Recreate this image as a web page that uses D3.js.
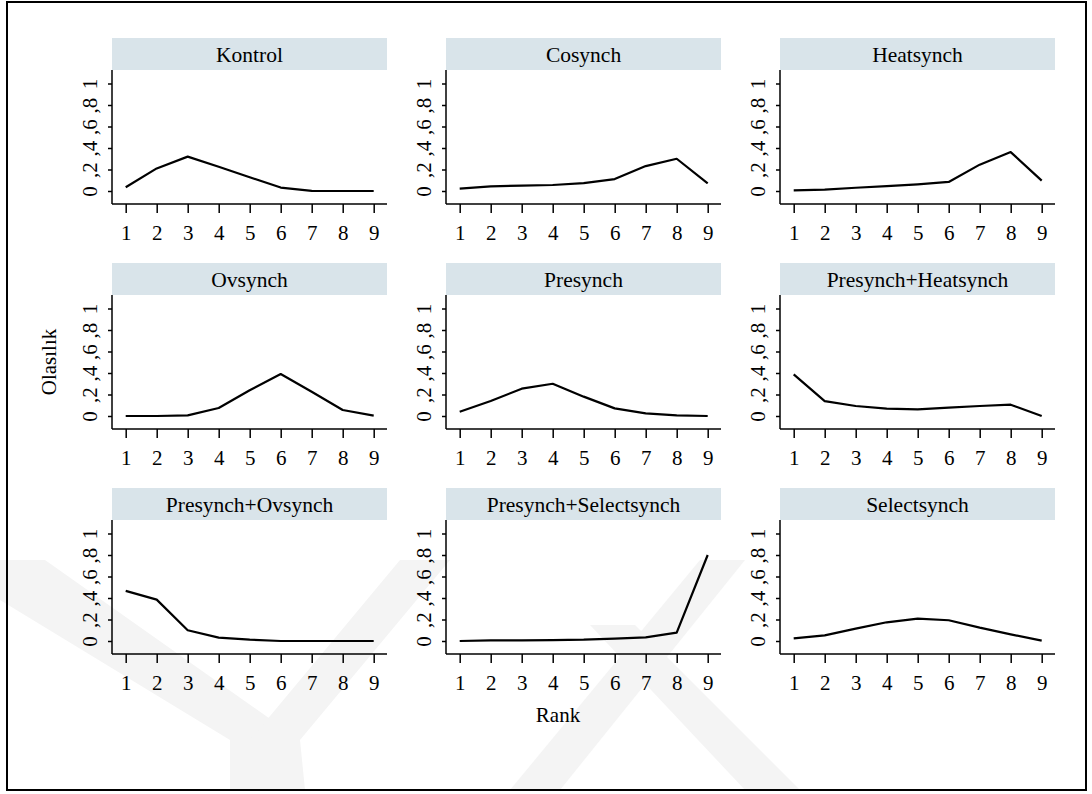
<!DOCTYPE html>
<html>
<head>
<meta charset="utf-8">
<script src="https://cdn.jsdelivr.net/npm/d3@7"></script>
<style>
  body { margin: 0; background: #fff; }
  svg text { font-family: "Liberation Serif", "DejaVu Serif", serif; fill: #000; }
</style>
</head>
<body>
<div id="chart"></div>
<script>
// treatment panels, in reading order
const treatments = [
	"Kontrol", "Cosynch", "Heatsynch",
	"Ovsynch", "Presynch", "Presynch+Heatsynch",
	"Presynch+Ovsynch", "Presynch+Selectsynch", "Selectsynch"
];
const ranks = [1, 2, 3, 4, 5, 6, 7, 8, 9];
const yTicks = [0, 0.2, 0.4, 0.6, 0.8, 1];

// probability of each rank
const kontrol = [0.035, 0.21, 0.32, 0.226, 0.128, 0.032, 0.002, 0.0, 0.0];
const cosynch = [0.022, 0.043, 0.05, 0.056, 0.074, 0.111, 0.232, 0.30, 0.071];
const heatsynch = [0.006, 0.012, 0.03, 0.046, 0.062, 0.084, 0.245, 0.362, 0.096];
const ovsynch = [0.0, 0.0, 0.006, 0.074, 0.24, 0.39, 0.226, 0.056, 0.003];
const presynch = [0.04, 0.139, 0.254, 0.30, 0.18, 0.071, 0.025, 0.006, 0.0];
const presynchHeatsynch = [0.387, 0.139, 0.093, 0.068, 0.062, 0.077, 0.093, 0.105, 0.0];
const presynchOvsynch = [0.466, 0.385, 0.10, 0.031, 0.012, 0.0, 0.0, 0.0, 0.0];
const presynchSelectsynch = [0.0, 0.006, 0.006, 0.009, 0.012, 0.022, 0.034, 0.078, 0.80];
const selectsynch = [0.025, 0.053, 0.115, 0.174, 0.208, 0.193, 0.124, 0.062, 0.003];

const series = [kontrol, cosynch, heatsynch, ovsynch, presynch,
	presynchHeatsynch, presynchOvsynch, presynchSelectsynch, selectsynch];

const width = 1092;
const height = 794;
const serif = "'Liberation Serif', 'DejaVu Serif', serif";
const fs = 21;

const svg = d3.select("#chart").append("svg")
	.attr("width", width)
	.attr("height", height);

// faint watermark bands behind everything
const marks = [
	[[0, 560], [45, 560], [300, 740], [230, 740], [0, 600]],
	[[400, 560], [450, 560], [300, 740], [250, 740]],
	[[230, 740], [300, 740], [305, 790], [230, 790]],
	[[700, 560], [745, 560], [560, 790], [510, 790]],
	[[590, 625], [635, 625], [800, 790], [745, 790]]
];
svg.append("g")
	.selectAll("polygon")
	.data(marks)
	.join("polygon")
	.attr("points", d => d.map(p => p.join(",")).join(" "))
	.attr("fill", "#f4f4f4");

// outer frame
svg.append("rect")
	.attr("x", 7).attr("y", 2)
	.attr("width", 1079).attr("height", 788)
	.attr("fill", "none")
	.attr("stroke", "#000")
	.attr("stroke-width", 2);

const panelW = 275;
const stripH = 32;

treatments.forEach((name, i) => {
	const col = i % 3, row = Math.floor(i / 3);
	const left = 112 + col * 334;
	const top = 38 + row * 225;
	const axisY = top + 166;

	const x = d3.scaleLinear().domain([1, 9]).range([left + 13.7, left + 261.7]);
	const y = d3.scaleLinear().domain([0, 1]).range([top + 153, top + 45.5]);

	const g = svg.append("g");

	// strip header
	g.append("rect")
		.attr("x", left).attr("y", top)
		.attr("width", panelW).attr("height", stripH)
		.attr("fill", "#d9e4ea");
	g.append("text")
		.attr("x", left + panelW / 2)
		.attr("y", top + 24)
		.attr("text-anchor", "middle")
		.attr("font-family", serif)
		.attr("font-size", 21.5)
		.text(name);

	// y axis
	const ya = g.append("g")
		.attr("transform", `translate(${left},0)`)
		.call(d3.axisLeft(y).tickValues(yTicks).tickSize(4)
			.tickFormat(v => v === 0 ? "0" : v === 1 ? "1" : "," + Math.round(v * 10)));
	ya.attr("font-family", serif);
	ya.select(".domain").remove();
	ya.selectAll(".tick line").attr("stroke", "#000").attr("stroke-width", 1.5);
	ya.selectAll(".tick text")
		.attr("x", null).attr("dy", null)
		.attr("transform", "translate(-15,0) rotate(-90)")
		.attr("text-anchor", "middle")
		.attr("font-size", fs);

	// x axis
	const xa = g.append("g")
		.attr("transform", `translate(0,${axisY})`)
		.call(d3.axisBottom(x).tickValues(ranks).tickSize(9).tickFormat(d3.format("d")));
	xa.attr("font-family", serif);
	xa.select(".domain").remove();
	xa.selectAll(".tick line").attr("stroke", "#000").attr("stroke-width", 1.5);
	xa.selectAll(".tick text")
		.attr("y", 36).attr("dy", null)
		.attr("font-size", fs);

	// axis lines
	g.append("line")
		.attr("x1", left).attr("x2", left)
		.attr("y1", top + stripH).attr("y2", axisY)
		.attr("stroke", "#000").attr("stroke-width", 1.5);
	g.append("line")
		.attr("x1", left).attr("x2", left + panelW)
		.attr("y1", axisY).attr("y2", axisY)
		.attr("stroke", "#000").attr("stroke-width", 1.5);

	// rank probability line
	const line = d3.line()
		.x((d, j) => x(ranks[j]))
		.y(d => y(d));
	g.append("path")
		.datum(series[i])
		.attr("d", line)
		.attr("fill", "none")
		.attr("stroke", "#000")
		.attr("stroke-width", 2.2)
		.attr("stroke-linejoin", "round");
});

// axis titles
svg.append("text")
	.attr("transform", "translate(56,362) rotate(-90)")
	.attr("text-anchor", "middle")
	.attr("font-family", serif)
	.attr("font-size", fs)
	.text("Olasılık");

svg.append("text")
	.attr("x", 558).attr("y", 722)
	.attr("text-anchor", "middle")
	.attr("font-family", serif)
	.attr("font-size", fs)
	.text("Rank");
</script>
</body>
</html>
